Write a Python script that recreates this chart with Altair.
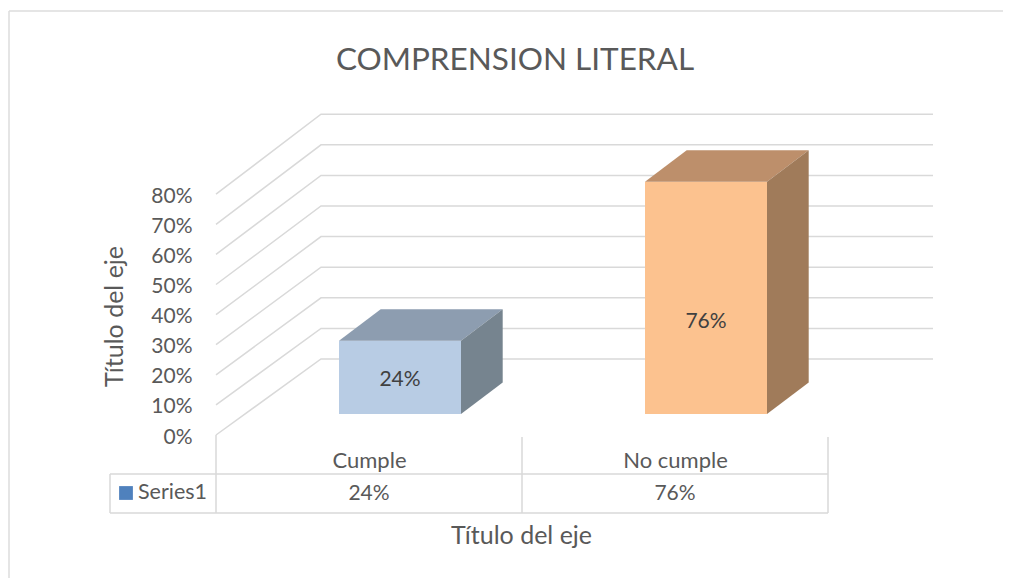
import altair as alt
import pandas as pd

categories = ["Cumple", "No cumple"]
values = [0.24, 0.76]
value_text = ["24%", "76%"]
label_levels = [0.183, 0.377]
front_colors = ["#B8CCE4", "#FCC28F"]
top_colors = ["#8D9DB0", "#BD8F6B"]
side_colors = ["#76848F", "#A07B5A"]
ticks = [0, 0.1, 0.2, 0.3, 0.4, 0.5, 0.6, 0.7, 0.8]
series_name = "Series1"
title_text = "COMPRENSION LITERAL"
axis_title = "Título del eje"

FONT = "Lato"
TEXT = "#595959"
GRID = "#D9D9D9"
FS = 21

# plot-area geometry of the pseudo-3D projection
PW, PH = 612, 335
X_UNIT, Y_UNIT = 306, 301
ux = lambda px: (px - 216) / X_UNIT
vy = lambda py: (435 - py) / Y_UNIT

# projection constants, in scale units
WALL_DX, WALL_DY = 105 / X_UNIT, 76 / Y_UNIT
WALL_SCALE = 306 / Y_UNIT
BAR_SCALE = 305.5 / Y_UNIT
BAR_W = 122 / X_UNIT
BAR_DX, BAR_DY = 41.7 / X_UNIT, 31.5 / Y_UNIT
BAR_X0 = 123 / X_UNIT
BAR_Y0 = 21 / Y_UNIT

grid_rows = []
for t in ticks:
    k = f"g{t}"
    back = WALL_DY + t * WALL_SCALE
    grid_rows += [
        {"k": k, "o": 0, "x": 0, "y": t},
        {"k": k, "o": 1, "x": WALL_DX, "y": back},
        {"k": k, "o": 2, "x": ux(933), "y": back},
    ]
grid_df = pd.DataFrame(grid_rows)

face_rows = []
label_rows = []
face_keys = []
face_cols = []
for i, (cat, v) in enumerate(zip(categories, values)):
    x0 = i + BAR_X0
    x1 = x0 + BAR_W
    y0 = BAR_Y0
    yt = y0 + v * BAR_SCALE
    for x, a, b in [(x0, y0, yt), (x1, y0, yt)]:
        face_rows.append({"k": f"front{i}", "x": x, "y": a, "y2": b})
    for x, a, b in [(x0, yt, yt), (x0 + BAR_DX, yt, yt + BAR_DY), (x1, yt, yt + BAR_DY), (x1 + BAR_DX, yt + BAR_DY, yt + BAR_DY)]:
        face_rows.append({"k": f"top{i}", "x": x, "y": a, "y2": b})
    for x, a, b in [(x1, y0, yt), (x1 + BAR_DX, y0 + BAR_DY, yt + BAR_DY)]:
        face_rows.append({"k": f"side{i}", "x": x, "y": a, "y2": b})
    face_keys += [f"front{i}", f"top{i}", f"side{i}"]
    face_cols += [front_colors[i], top_colors[i], side_colors[i]]
    label_rows.append({"x": x0 + BAR_W / 2, "y": label_levels[i], "t": value_text[i]})
face_df = pd.DataFrame(face_rows)
label_df = pd.DataFrame(label_rows)

table_rows = [
    (216, 216, 435, 513), (522, 522, 437, 513), (828, 828, 437, 513), (110, 110, 474, 513),
    (110, 828, 474, 474), (110, 828, 513, 513),
]
table_df = pd.DataFrame([{"x": ux(a), "x2": ux(b), "y": vy(c), "y2": vy(d)} for a, b, c, d in table_rows])
frame_df = pd.DataFrame([
    {"x": ux(9), "x2": ux(1003), "y": vy(11), "y2": vy(11)},
    {"x": ux(9), "x2": ux(9), "y": vy(11), "y2": vy(578)},
])
row_df = pd.DataFrame([{"x": i + 0.5, "y": vy(494), "t": value_text[i]} for i in range(2)])

xs = alt.Scale(domain=[0, 2], nice=False, zero=False)
ys = alt.Scale(domain=[0, PH / Y_UNIT], nice=False, zero=False)
label_expr = f"datum.value < 1 ? '{categories[0]}' : '{categories[1]}'"

x_axis = alt.Axis(
    values=[0.5, 1.5], labelExpr=label_expr, domain=False, ticks=False, grid=False,
    labelFont=FONT, labelFontSize=22, labelColor=TEXT, labelPadding=15,
    title=axis_title, titleFont=FONT, titleFontSize=25, titleColor=TEXT, titleFontWeight="normal",
    titleX=305, titleY=100, titleBaseline="middle", titleAnchor="middle",
)
y_axis = alt.Axis(
    values=ticks, format=".0%", domain=False, ticks=False, grid=False,
    labelFont=FONT, labelFontSize=FS, labelColor=TEXT, labelPadding=24, labelOffset=2,
    title=axis_title, titleFont=FONT, titleFontSize=25, titleColor=TEXT, titleFontWeight="normal",
    titleX=-102, titleY=216, titleBaseline="middle", titleAnchor="middle",
)
xq = alt.X("x:Q", scale=xs, axis=x_axis)
yq = alt.Y("y:Q", scale=ys, axis=y_axis)

frame = alt.Chart(frame_df).mark_rule(color="#DDDDDD", strokeWidth=1.5).encode(
    x=xq, x2="x2:Q", y=yq, y2="y2:Q")
grid = alt.Chart(grid_df).mark_line(color=GRID, strokeWidth=1.5).encode(
    x=xq, y=yq, detail="k:N", order="o:Q")
faces = alt.Chart(face_df).mark_area(orient="vertical", interpolate="linear", opacity=1).encode(
    x=xq, y=yq, y2=alt.Y2("y2:Q"),
    color=alt.Color("k:N", scale=alt.Scale(domain=face_keys, range=face_cols), legend=None),
)
bar_labels = alt.Chart(label_df).mark_text(font=FONT, fontSize=FS, color="#404040").encode(
    x=xq, y=yq, text="t:N")
table = alt.Chart(table_df).mark_rule(color=GRID, strokeWidth=1.5).encode(
    x=xq, x2="x2:Q", y=yq, y2="y2:Q")
row_text = alt.Chart(row_df).mark_text(font=FONT, fontSize=FS, color=TEXT).encode(
    x=xq, y=yq, text="t:N")
key = alt.Chart(pd.DataFrame([{"x": ux(126), "y": vy(493)}])).mark_square(
    size=190, color="#4F81BD", opacity=1).encode(x=xq, y=yq)
key_text = alt.Chart(pd.DataFrame([{"x": ux(138), "y": vy(493), "t": series_name}])).mark_text(
    font=FONT, fontSize=21.5, color=TEXT, align="left").encode(x=xq, y=yq, text="t:N")

chart = alt.layer(frame, grid, faces, bar_labels, table, row_text, key, key_text).resolve_scale(
    x="shared", y="shared"
).properties(
    width=PW, height=PH,
    padding={"left": 208, "top": 92, "right": 175, "bottom": 143},
    autosize=alt.AutoSizeParams(type="none"),
    background="white",
    title=alt.TitleParams(title_text, font=FONT, fontSize=31.5, color=TEXT, fontWeight="normal",
                          anchor="middle", frame="group", dx=-7, offset=-66),
).configure_view(stroke=None)

chart.save("out.html", embed_options={"renderer": "svg", "actions": False})
